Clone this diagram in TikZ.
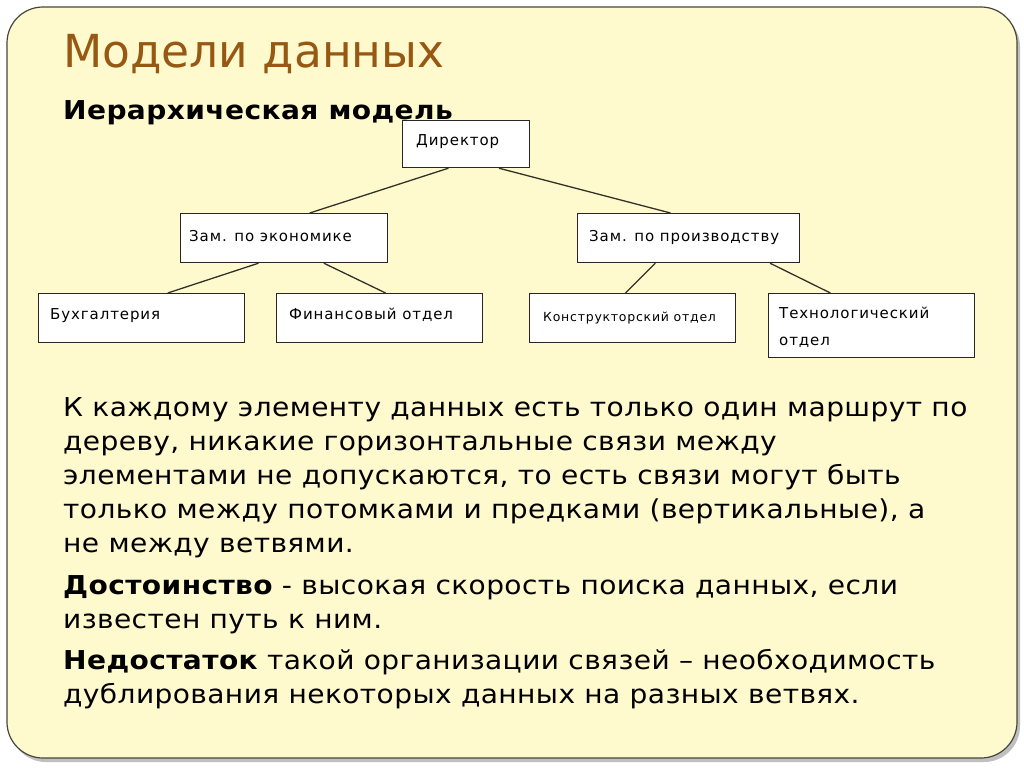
\documentclass[tikz,border=0pt]{standalone}
\usepackage{fontspec}
\setmainfont{DejaVu Sans}
\newfontfamily\boxfont[LetterSpace=6]{DejaVu Sans}
\newfontfamily\bodyfont[FakeStretch=1.08, LetterSpace=1.5]{DejaVu Sans}
\newfontfamily\subfont[FakeStretch=1.08, LetterSpace=1.5]{DejaVu Sans Bold}
\usetikzlibrary{calc}
\definecolor{slidebg}{RGB}{255,249,206}
\definecolor{titlebrown}{RGB}{150,88,18}
\definecolor{framegray}{RGB}{70,70,60}
\definecolor{linegray}{RGB}{50,50,40}
\tikzset{
  orgbox/.style={draw=black!85, line width=1.2pt, fill=white, anchor=north west, inner sep=0pt},
  lbl/.style={anchor=base west, inner sep=0pt, font=\boxfont\fontsize{15}{25}\selectfont},
  conn/.style={draw=linegray, line width=1.3pt},
  body/.style={anchor=base west, inner sep=0pt, font=\bodyfont\fontsize{26}{34}\selectfont},
}
\begin{document}
\begin{tikzpicture}[x=1pt,y=-1pt]
\useasboundingbox (0,0) rectangle (1024,768);
\fill[white] (0,0) rectangle (1024,768);
% shadow and frame
\fill[black!25, rounded corners=36pt] (10,11) rectangle (1020,762);
\draw[framegray, fill=slidebg, line width=1.2pt, rounded corners=36pt] (7,7) rectangle (1017,758);

\node[anchor=base west, inner sep=0pt, text=titlebrown, font=\fontsize{45.5}{50}\selectfont] (title) at (63,67) {Модели данных};
\node[anchor=base west, inner sep=0pt, font=\subfont\fontsize{26}{30}\selectfont] (sub) at (63,119) {Иерархическая модель};

% boxes
\node[orgbox, minimum width=127pt, minimum height=47pt] (dir) at (402,120) {};
\node[orgbox, minimum width=207pt, minimum height=49pt] (ze) at (180,213) {};
\node[orgbox, minimum width=222pt, minimum height=49pt] (zp) at (577,213) {};
\node[orgbox, minimum width=206pt, minimum height=49pt] (bu) at (38,293) {};
\node[orgbox, minimum width=206pt, minimum height=49pt] (fi) at (276,293) {};
\node[orgbox, minimum width=206pt, minimum height=49pt] (ko) at (529,293) {};
\node[orgbox, minimum width=206pt, minimum height=64pt] (te) at (768,293) {};

\node[lbl] (dirl) at ($(dir.north west)+(14,25)$) {Директор};
\node[lbl] (zel) at ($(ze.north west)+(9,28)$) {Зам. по экономике};
\node[lbl] (zpl) at ($(zp.north west)+(12,28)$) {Зам. по производству};
\node[lbl] (bul) at ($(bu.north west)+(12,26)$) {Бухгалтерия};
\node[lbl] (fil) at ($(fi.north west)+(13,26)$) {Финансовый отдел};
\node[lbl] (kol) at ($(ko.north west)+(14,28)$) {\fontsize{12.5}{25}\selectfont Конструкторский отдел};
\node[lbl] (tel) at ($(te.north west)+(11,25)$) {Технологический};
\node[lbl] (tel2) at ($(te.north west)+(11,52)$) {отдел};

% connectors
\draw[conn] ($(dir.south west)!0.362!(dir.south east)$) -- ($(ze.north west)!0.623!(ze.north east)$);
\draw[conn] ($(dir.south west)!0.756!(dir.south east)$) -- ($(zp.north west)!0.419!(zp.north east)$);
\draw[conn] ($(ze.south west)!0.377!(ze.south east)$) -- ($(bu.north west)!0.626!(bu.north east)$);
\draw[conn] ($(ze.south west)!0.691!(ze.south east)$) -- ($(fi.north west)!0.529!(fi.north east)$);
\draw[conn] ($(zp.south west)!0.351!(zp.south east)$) -- ($(ko.north west)!0.466!(ko.north east)$);
\draw[conn] ($(zp.south west)!0.865!(zp.south east)$) -- ($(te.north west)!0.301!(te.north east)$);

% body text
\node[body] (l1) at (63,416) {К каждому элементу данных есть только один маршрут по};
\node[body] (l2) at (63,450) {дереву, никакие горизонтальные связи между};
\node[body] (l3) at (63,484) {элементами не допускаются, то есть связи могут быть};
\node[body] (l4) at (63,518) {только между потомками и предками (вертикальные), а};
\node[body] (l5) at (63,552) {не между ветвями.};
\node[body] (l6) at (63,594) {{\subfont Достоинство} - высокая скорость поиска данных, если};
\node[body] (l7) at (63,628) {известен путь к ним.};
\node[body] (l8) at (63,669) {{\subfont Недостаток} такой организации связей – необходимость};
\node[body] (l9) at (63,703) {дублирования некоторых данных на разных ветвях.};
\end{tikzpicture}
\end{document}
